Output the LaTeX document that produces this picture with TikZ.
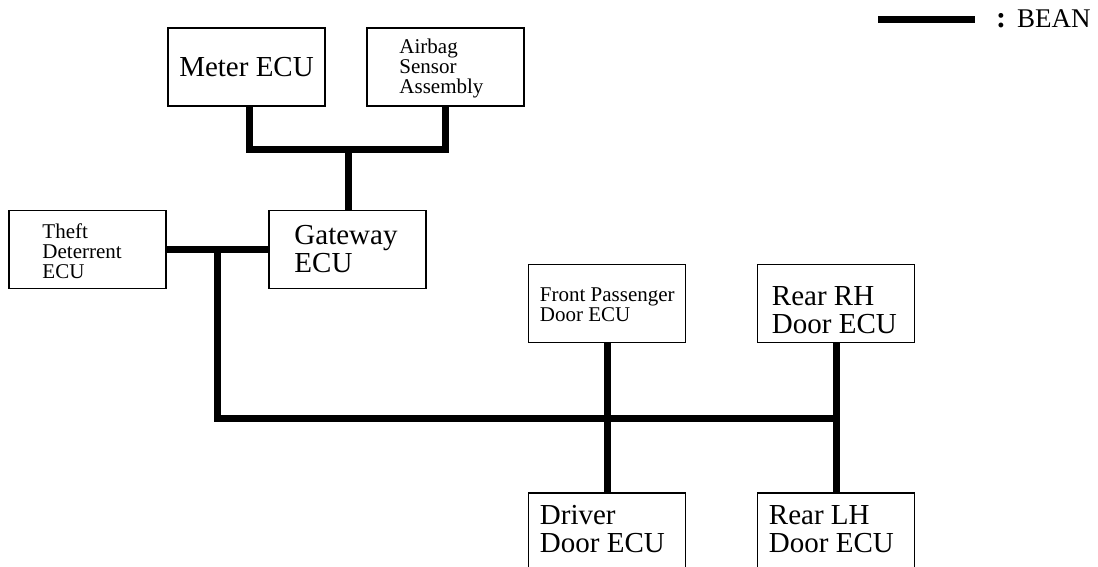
\documentclass[tikz,border=0pt]{standalone}
\usepackage{fontspec}
\setmainfont{Liberation Serif}
\begin{document}
\begin{tikzpicture}[x=1pt,y=-1pt,
  box/.style={draw,line width=1.5pt,minimum width=157pt,minimum height=78pt,inner sep=0pt},
  lbl/.style={align=left,anchor=west,inner sep=0pt},
  big/.style={font=\fontsize{29}{28}\selectfont},
  small/.style={font=\fontsize{21}{20}\selectfont},
  bus/.style={line width=7pt}]
\useasboundingbox (0,0) rectangle (1098,567);
\clip (0,0) rectangle (1098,567);
% boxes
\node[box,big] (meter) at (246.5,67) {Meter ECU};
\node[box] (airbag) at (445.5,67) {};
\node[box] (theft) at (87.5,249.5) {};
\node[box] (gateway) at (347.5,249.5) {};
\node[box] (fpass) at (607,303.5) {};
\node[box] (rearrh) at (836,303.5) {};
\node[box] (driver) at (607,532) {};
\node[box] (rearlh) at (836,532) {};
% labels (yshift in pt, positive = up)
\node[lbl,small] (airbagt) at ([xshift=33,yshift=-1.5]airbag.west) {Airbag\\Sensor\\Assembly};
\node[lbl,small] (theftt) at ([xshift=34,yshift=-1.5]theft.west) {Theft\\Deterrent\\ECU};
\node[lbl,big] (gatewayt) at ([xshift=26]gateway.west) {Gateway\\ECU};
\node[lbl,small] (fpasst) at ([xshift=12,yshift=-1.5]fpass.west) {Front Passenger\\Door ECU};
\node[lbl,big] (rearrht) at ([xshift=15,yshift=-7]rearrh.west) {Rear RH\\Door ECU};
\node[lbl,big] (drivert) at ([xshift=12,yshift=3]driver.west) {Driver\\Door ECU};
\node[lbl,big] (rearlht) at ([xshift=12,yshift=3]rearlh.west) {Rear LH\\Door ECU};
% junctions
\coordinate (jtop) at (348,150);
\coordinate (jleft) at (217,249);
\coordinate (jrear) at (836,418);
% buses
\draw[bus] ([xshift=2.5]meter.south) |- (jtop) -| (airbag.south);
\draw[bus] (jtop) -- (jtop |- gateway.north);
\draw[bus] (theft.east) -- (gateway.west);
\draw[bus] (jleft) |- (jrear);
\draw[bus] (fpass.south) -- (driver.north);
\draw[bus] (rearrh.south) -- (rearlh.north);
% legend
\coordinate (l1) at (878,20);
\coordinate (l2) at (975,20);
\draw[bus] (l1) -- (l2);
\node[font=\fontsize{30}{30}\selectfont\bfseries,anchor=base,inner sep=0pt] (legcolon) at (1001,28) {:};
\node[font=\fontsize{27}{27}\selectfont,anchor=base west,inner sep=0pt] (legtext) at (1017,28) {BEAN};
\end{tikzpicture}
\end{document}
